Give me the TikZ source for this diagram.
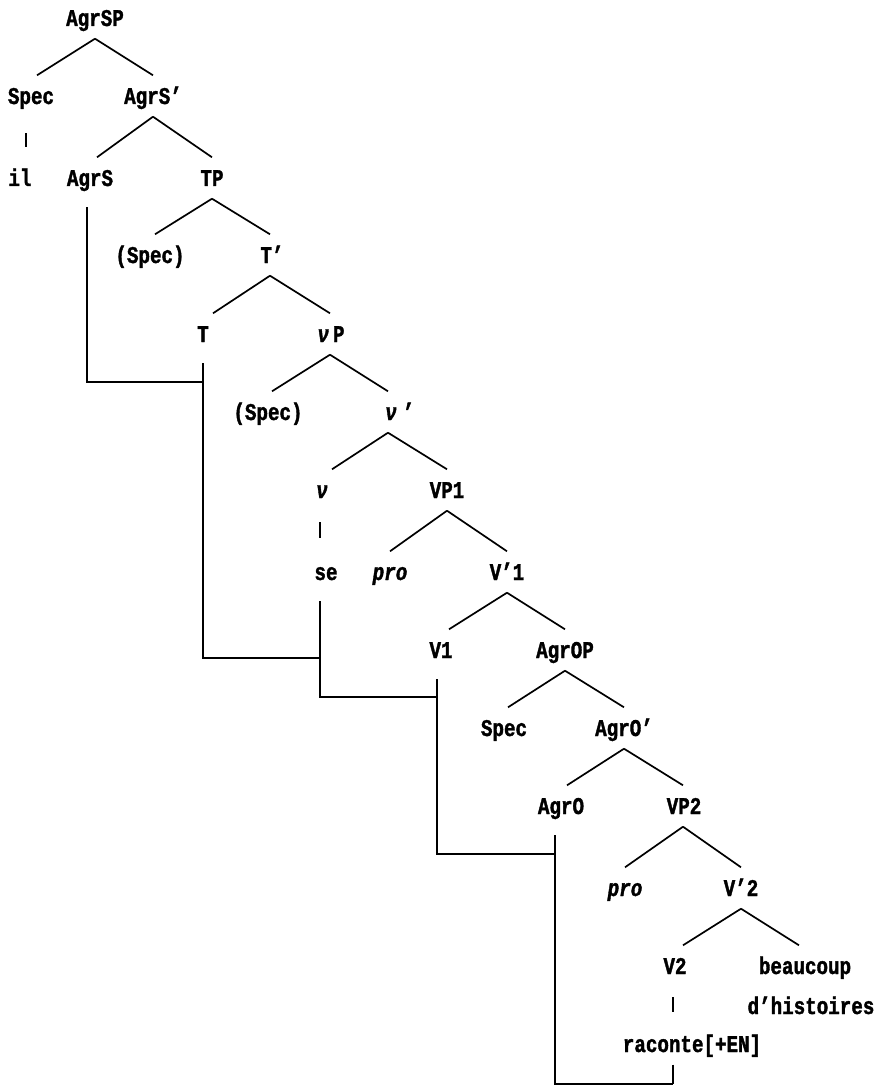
\documentclass[tikz,border=0pt]{standalone}
\usepackage{fontspec}
\setmainfont{Liberation Mono}[FakeStretch=0.8,FakeBold=1.5]
\begin{document}
\begin{tikzpicture}[x=1pt,y=-1pt,
  lab/.style={font=\fontsize{24}{26}\selectfont\bfseries, text height=16pt, text depth=0pt, inner xsep=0pt, inner ysep=12.5pt, anchor=center},
  br/.style={line width=1.7pt},
  mv/.style={line width=2.3pt, shorten <=8.5pt},
  vbar/.style={line width=2.4pt}]
\fill[white] (0,0) rectangle (877,1091);
\useasboundingbox (0,0) rectangle (877,1091);
% nodes
\node[lab] (AgrSP) at (95,18) {AgrSP};
\node[lab] (Spec1) at (31,96) {Spec};
\node[lab] (AgrSb) at (153,96) {AgrS'};
\node[lab] (il) at (20,178) {il};
\node[lab] (AgrS) at (90,178) {AgrS};
\node[lab] (TP) at (212,178) {TP};
\node[lab] (SpecA) at (150,255) {(Spec)};
\node[lab] (Tb) at (272,255) {T'};
\node[lab] (T) at (203,334) {T};
\node[lab] (vP) at (331,334) {{\itshape ν}\,P};
\node[lab] (SpecB) at (268,412) {(Spec)};
\node[lab] (vb) at (391,412) {{\itshape ν}\rlap{\hspace{6pt}'}};
\node[lab] (vv) at (322,490) {\itshape ν};
\node[lab] (VP1) at (447,490) {VP1};
\node[lab] (se) at (326,572) {se};
\node[lab] (pro1) at (390,572) {\itshape pro};
\node[lab] (Vb1) at (507,572) {V'1};
\node[lab] (V1) at (441,650) {V1};
\node[lab] (AgrOP) at (565,650) {AgrOP};
\node[lab] (Spec2) at (504,728) {Spec};
\node[lab] (AgrOb) at (624,728) {AgrO'};
\node[lab] (AgrO) at (561,806) {AgrO};
\node[lab] (VP2) at (684,806) {VP2};
\node[lab] (pro2) at (625,888) {\itshape pro};
\node[lab] (Vb2) at (741,888) {V'2};
\node[lab] (V2) at (675,966) {V2};
\node[lab] (beau) at (805,966) {beaucoup};
\node[lab] (dhist) at (811,1006) {d'histoires};
\node[lab] (raconte) at (692,1044) {raconte[+EN]};
% branches
\draw[br] (AgrSP.south) -- ([xshift=6pt]Spec1.north);
\draw[br] (AgrSP.south) -- (AgrSb.north);
\draw[br] (AgrSb.south) -- ([xshift=7pt]AgrS.north);
\draw[br] (AgrSb.south) -- (TP.north);
\draw[br] (TP.south) -- ([xshift=5pt]SpecA.north);
\draw[br] (TP.south) -- ([xshift=-2pt]Tb.north);
\draw[br] ([xshift=-2pt]Tb.south) -- ([xshift=10pt]T.north);
\draw[br] ([xshift=-2pt]Tb.south) -- ([xshift=-1pt]vP.north);
\draw[br] ([xshift=-1pt]vP.south) -- ([xshift=4pt]SpecB.north);
\draw[br] ([xshift=-1pt]vP.south) -- ([xshift=-3pt]vb.north);
\draw[br] ([xshift=-3pt]vb.south) -- ([xshift=10pt]vv.north);
\draw[br] ([xshift=-3pt]vb.south) -- (VP1.north);
\draw[br] (VP1.south) -- (pro1.north);
\draw[br] (VP1.south) -- (Vb1.north);
\draw[br] (Vb1.south) -- ([xshift=8pt]V1.north);
\draw[br] (Vb1.south) -- (AgrOP.north);
\draw[br] (AgrOP.south) -- ([xshift=4pt]Spec2.north);
\draw[br] (AgrOP.south) -- (AgrOb.north);
\draw[br] (AgrOb.south) -- ([xshift=6pt]AgrO.north);
\draw[br] (AgrOb.south) -- ([xshift=-1pt]VP2.north);
\draw[br] ([xshift=-1pt]VP2.south) -- (pro2.north);
\draw[br] ([xshift=-1pt]VP2.south) -- (Vb2.north);
\draw[br] (Vb2.south) -- ([xshift=8pt]V2.north);
\draw[br] (Vb2.south) -- ([xshift=-6pt]beau.north);
% unary bars
\draw[vbar, shorten <=16.5pt, shorten >=10.5pt] ([xshift=-5pt]Spec1.south) -- ([xshift=6pt]il.north);
\draw[vbar, shorten <=11.5pt, shorten >=13.5pt] ([xshift=-2pt]vv.south) -- ([xshift=-2pt]se.north -| vv.south);
\draw[vbar, shorten <=10.5pt, shorten >=11.5pt] ([xshift=-2pt]V2.south) -- ([xshift=-2pt]raconte.north -| V2.south);
% movement chain
\coordinate (m1) at (203,382);
\coordinate (m2) at (320,658);
\coordinate (m3) at (437,697);
\coordinate (m4) at (555,854);
\coordinate (m5) at (673,1084);
\draw[mv] ([xshift=-3pt]AgrS.south) |- (m1);
\draw[mv] (T.south) |- (m2);
\draw[mv] (m2 |- se.south) |- (m3);
\draw[mv] (m3 |- V1.south) |- (m4);
\draw[mv] (m4 |- AgrO.south) |- (m5);
\draw[line width=2.3pt] (raconte.south -| m5) -- (m5);
\end{tikzpicture}
\end{document}
